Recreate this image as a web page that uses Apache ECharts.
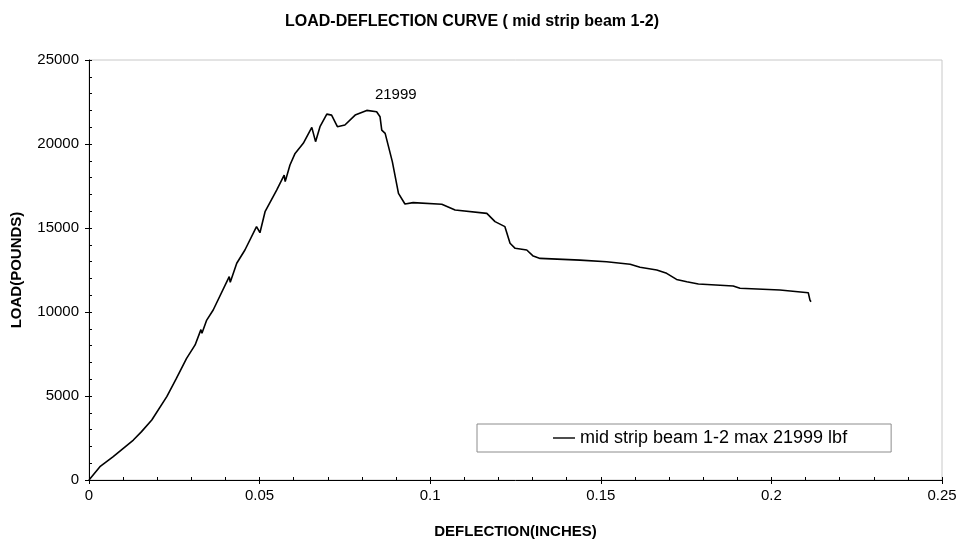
<!DOCTYPE html>
<html>
<head>
<meta charset="utf-8">
<script src="https://cdn.jsdelivr.net/npm/echarts@6/dist/echarts.min.js"></script>
<style>html,body{margin:0;padding:0;background:#fff}#c{width:962px;height:541px}</style>
</head>
<body>
<div id="c"></div>
<script>
const deflection = [0,0.0032,0.0071,0.013,0.0154,0.0184,0.0228,0.0255,0.0258,0.0286,0.0311,0.0328,0.0331,0.0345,0.0364,0.0411,0.0414,0.0433,0.0457,0.0491,0.0501,0.0516,0.055,0.0572,0.0575,0.0589,0.0604,0.0628,0.0653,0.0664,0.0677,0.0697,0.0711,0.0728,0.075,0.078,0.0814,0.0843,0.0853,0.0858,0.0868,0.0889,0.0907,0.0926,0.095,0.1034,0.1073,0.1166,0.119,0.1219,0.1234,0.1249,0.1283,0.1302,0.1322,0.1439,0.1517,0.1586,0.1615,0.1664,0.1693,0.1722,0.1752,0.1786,0.1888,0.1908,0.2025,0.2108,0.2113,0.2116];
const load = [0,790,1390,2380,2880,3570,4960,6000,5950,7240,8040,8950,8730,9520,10120,12100,11770,12900,13690,15080,14720,15970,17260,18150,17760,18750,19440,20040,20990,20140,21030,21780,21720,21030,21130,21720,21999,21920,21620,20830,20630,18950,17060,16430,16510,16410,16070,15870,15380,15080,14090,13790,13690,13330,13190,13090,12990,12840,12660,12500,12300,11940,11800,11670,11550,11410,11310,11150,10710,10610];
const xTicks = [0,0.05,0.1,0.15,0.2,0.25];
const yTicks = [0,5000,10000,15000,20000,25000];
const seriesName = 'mid strip beam 1-2 max 21999 lbf';
const titleText = 'LOAD-DEFLECTION CURVE ( mid strip beam 1-2)';

const data = deflection.map((x, i) => [x, load[i]]);

const font = 'Liberation Sans, Arial, sans-serif';
const chart = echarts.init(document.getElementById('c'), null, { renderer: 'canvas' });
chart.setOption({
  animation: false,
  backgroundColor: '#fff',
  title: {
    text: titleText, left: 467, top: 9, textAlign: 'center',
    textStyle: { fontSize: 16, fontWeight: 'bold', color: '#000', fontFamily: font }
  },
  legend: {
    left: 477, top: 424,
    padding: [5, 44, 5, 76],
    borderColor: '#8c8c8c', borderWidth: 1,
    itemWidth: 22, itemHeight: 12, itemGap: 10,
    textStyle: { fontSize: 18, color: '#000', fontFamily: font },
    data: [{ name: seriesName, icon: 'path://M0,5 L22,5 L22,6.4 L0,6.4 Z' }]
  },
  grid: { left: 89, right: 20, top: 60, bottom: 61, show: true, borderColor: '#c8c8c8', borderWidth: 1, containLabel: false, outerBoundsMode: 'none' },
  xAxis: [{
    type: 'value', min: xTicks[0], max: xTicks[xTicks.length - 1], interval: 0.05,
    name: 'DEFLECTION(INCHES)', nameLocation: 'middle', nameGap: 44,
    nameTextStyle: { fontSize: 15, fontWeight: 'bold', color: '#000', fontFamily: font },
    axisLine: { lineStyle: { color: '#000', width: 1 } },
    axisTick: { show: true, inside: false, length: 4, lineStyle: { color: '#000' } },
    axisLabel: { color: '#000', fontSize: 15, margin: 8, fontFamily: font, formatter: v => String(+v.toFixed(2)) },
    splitLine: { show: false }
  }, {
    type: 'value', min: xTicks[0], max: xTicks[xTicks.length - 1], interval: 0.01, position: 'bottom',
    axisLine: { show: false }, axisLabel: { show: false }, splitLine: { show: false },
    axisTick: { show: true, inside: true, length: 3, lineStyle: { color: '#000' } }
  }],
  yAxis: [{
    type: 'value', min: yTicks[0], max: yTicks[yTicks.length - 1], interval: 5000,
    name: 'LOAD(POUNDS)', nameLocation: 'middle', nameGap: 65, nameRotate: 90,
    nameTextStyle: { fontSize: 15, fontWeight: 'bold', color: '#000', fontFamily: font },
    axisLine: { show: true, lineStyle: { color: '#000', width: 1 } },
    axisTick: { show: true, inside: false, length: 4, lineStyle: { color: '#000' } },
    axisLabel: { color: '#000', fontSize: 15, margin: 10, fontFamily: font, formatter: v => String(v) },
    splitLine: { show: false }
  }, {
    type: 'value', min: yTicks[0], max: yTicks[yTicks.length - 1], interval: 1000, position: 'left',
    axisLine: { show: false }, axisLabel: { show: false }, splitLine: { show: false },
    axisTick: { show: true, inside: true, length: 3, lineStyle: { color: '#000' } }
  }],
  series: [{
    name: seriesName, type: 'line', xAxisIndex: 0, yAxisIndex: 0,
    data: data, showSymbol: false, symbol: 'none', smooth: false,
    lineStyle: { color: '#000', width: 1.6 }, itemStyle: { color: '#000' },
    markPoint: {
      symbol: 'circle', symbolSize: 0.01, silent: true,
      itemStyle: { color: 'rgba(0,0,0,0)' },
      label: { show: true, position: 'top', distance: 5, offset: [29, -3], formatter: p => String(p.value[1] !== undefined ? p.value[1] : p.value), color: '#000', fontSize: 15, fontFamily: font },
      data: [{ type: 'max', valueDim: 'y' }]
    }
  }]
});
</script>
</body>
</html>
